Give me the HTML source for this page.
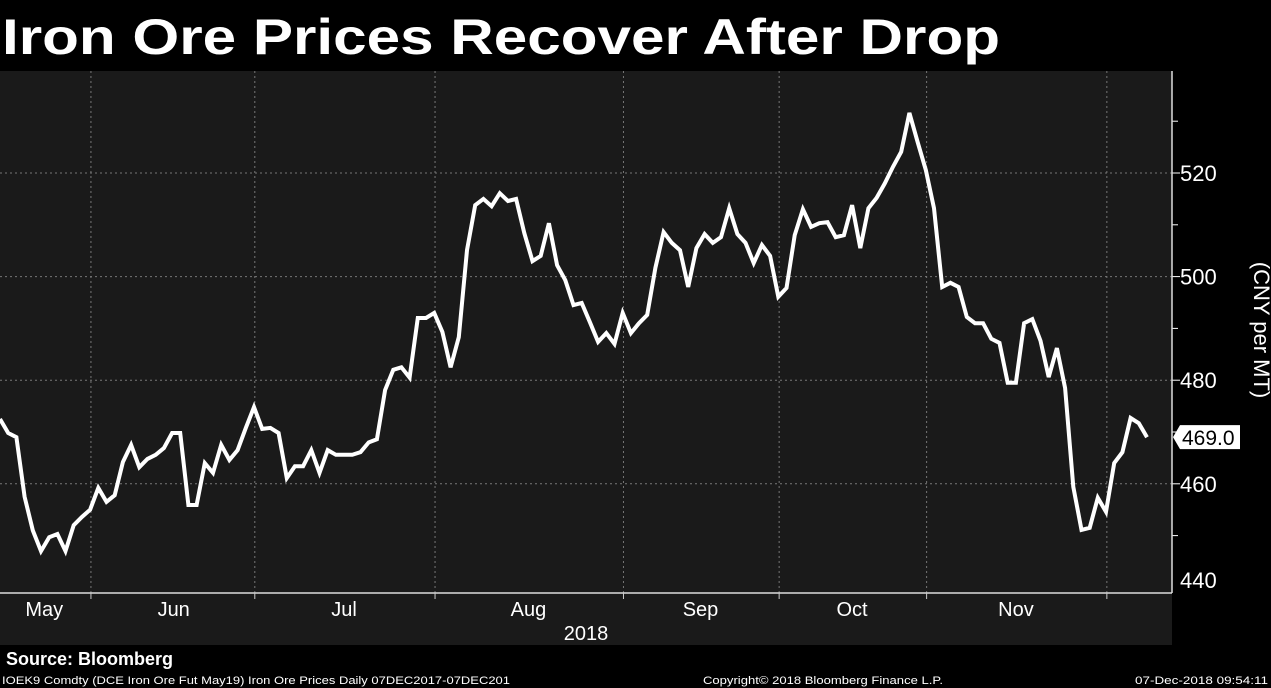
<!DOCTYPE html>
<html><head><meta charset="utf-8"><style>
html,body{margin:0;padding:0;background:#000;}
svg{display:block;font-family:"Liberation Sans",sans-serif;}
</style></head><body>
<svg id="chart" width="1271" height="688" viewBox="0 0 1271 688" xmlns="http://www.w3.org/2000/svg">
<rect x="0" y="0" width="1271" height="688" fill="#000"/>
<text x="2" y="54" fill="#fff" font-size="50" font-weight="bold" textLength="998" lengthAdjust="spacingAndGlyphs">Iron Ore Prices Recover After Drop</text>
<rect x="0" y="71" width="1172" height="522" fill="#1a1a1a"/>
<rect x="0" y="593" width="1172" height="52" fill="#1a1a1a"/>
<g id="grid"></g>
<g id="yaxis"></g>
<g id="xaxis"></g>
<g id="series"></g>
<text transform="translate(1254,330) rotate(90)" text-anchor="middle" fill="#fff" font-size="22">(CNY per MT)</text>
<text x="586" y="640" text-anchor="middle" fill="#fff" font-size="20">2018</text>
<text x="6" y="665" fill="#fff" font-size="18" font-weight="bold">Source: Bloomberg</text>
<text x="2" y="684" fill="#fff" font-size="11" textLength="508" lengthAdjust="spacingAndGlyphs">IOEK9 Comdty (DCE Iron Ore Fut  May19) Iron Ore Prices  Daily 07DEC2017-07DEC201</text>
<text x="703" y="684" fill="#fff" font-size="11" textLength="240" lengthAdjust="spacingAndGlyphs">Copyright© 2018 Bloomberg Finance L.P.</text>
<text x="1135" y="684" fill="#fff" font-size="11" textLength="133" lengthAdjust="spacingAndGlyphs">07-Dec-2018 09:54:11</text>
</svg>
<script>
const values = [472.5,469.8,469,457.5,451,447,449.7,450.3,447,452,453.6,455,459.2,456.5,457.8,464.2,467.5,463.2,464.8,465.6,466.9,469.8,469.8,455.9,455.9,464,462.1,467.5,464.6,466.5,470.8,474.8,470.6,470.8,469.8,461.1,463.4,463.4,466.5,462.1,466.5,465.6,465.6,465.6,466.1,468,468.6,478.1,482,482.5,480.5,492,492,493,489.3,482.5,488.3,505.1,513.8,515,513.6,516.1,514.6,515,508.4,503,504,510.3,502.2,499.3,494.5,494.9,491.2,487.4,489.1,487,493,489.1,491,492.6,501.7,508.6,506.5,505.1,498,505.5,508.2,506.5,507.6,513.2,508.2,506.5,502.6,506.1,504,496.1,497.8,508,513,509.6,510.3,510.5,507.6,508,513.8,505.5,513.2,515.2,518,521.2,524.1,531.6,526,520.6,513.2,498,498.8,498,492.2,491,491,488,487.2,479.5,479.5,491,491.8,487.6,480.6,486.2,478.5,459.4,451.1,451.5,457.3,454.6,464,466.1,472.7,471.7,469];
const yTicks = [460,480,500,520];
const yMinorTicks = [450,470,490,510,530];
const monthLabels = ["May","Jun","Jul","Aug","Sep","Oct","Nov"];
const monthLabelIdx = [5.4,21.2,42,64.5,85.5,104,124];
const monthBoundIdx = [12,32,54,77,96,114,136];
const lastValue = 469.0;

const NS="http://www.w3.org/2000/svg";
const X0=0, X1=1147;
function x(i){return X0+(X1-X0)*i/(values.length-1);}
function y(v){return 173+(520-v)*5.18;}
function mk(tag,attrs,parent){const e=document.createElementNS(NS,tag);for(const k in attrs)e.setAttribute(k,attrs[k]);parent.appendChild(e);return e;}
const grid=document.getElementById('grid'),ya=document.getElementById('yaxis'),xa=document.getElementById('xaxis'),ser=document.getElementById('series');
yTicks.forEach(v=>{
  const l=mk('line',{x1:0,x2:1172,y1:y(v),y2:y(v),stroke:'#777','stroke-dasharray':'2,3','stroke-width':1},grid);
  
  
  const t=mk('line',{x1:1172,x2:1180,y1:y(v),y2:y(v),stroke:'#fff','stroke-width':1},ya);
  
  
  const tx=mk('text',{x:1180,y:y(v)+8,fill:'#fff','font-size':22},ya);
  tx.textContent=v;
  
  
});
const bottomLabel=mk('text',{x:1180,y:588,fill:'#fff','font-size':22},ya);
bottomLabel.textContent='440';


yMinorTicks.forEach(v=>{
  const t=mk('line',{x1:1172,x2:1178,y1:y(v),y2:y(v),stroke:'#fff','stroke-width':1},ya);
  
  
});
const ax=mk('line',{x1:1172,x2:1172,y1:71,y2:593,stroke:'#ddd','stroke-width':1.5},ya);


const bx=mk('line',{x1:0,x2:1172,y1:593,y2:593,stroke:'#ddd','stroke-width':1.5},xa);


monthBoundIdx.forEach(i=>{
  const px=x(i-0.9);
  const g=mk('line',{x1:px,x2:px,y1:71,y2:593,stroke:'#777','stroke-dasharray':'2,3','stroke-width':1},grid);
  
  
  const t=mk('line',{x1:px,x2:px,y1:593,y2:599,stroke:'#ccc','stroke-width':1},xa);
  
  
});
monthLabels.forEach((m,k)=>{
  const t=mk('text',{x:x(monthLabelIdx[k]),y:616,fill:'#fff','font-size':20,'text-anchor':'middle'},xa);
  t.textContent=m;
  
  
});
const p=mk('polyline',{points:values.map((v,i)=>x(i).toFixed(1)+','+y(v).toFixed(1)).join(' '),fill:'none',stroke:'#fff','stroke-width':4,'stroke-linejoin':'miter'},ser);


const ly=y(lastValue);
const lb=mk('polygon',{points:`1173,${ly} 1180,${ly-12} 1240,${ly-12} 1240,${ly+12} 1180,${ly+12}`,fill:'#fff'},ya);


const lt=mk('text',{x:1182,y:ly+8,fill:'#000','font-size':21},ya);
lt.textContent=lastValue.toFixed(1);


</script>
</body></html>
